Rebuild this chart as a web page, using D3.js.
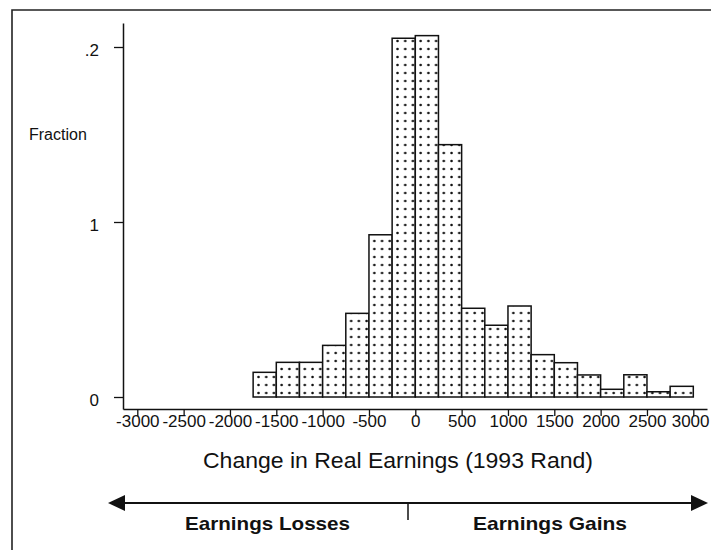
<!DOCTYPE html>
<html>
<head>
<meta charset="utf-8">
<script src="https://cdn.jsdelivr.net/npm/d3@7"></script>
<style>
  html, body { margin: 0; padding: 0; background: #fff; }
  svg { display: block; font-family: "Liberation Sans", Arial, sans-serif; }
</style>
</head>
<body>
<svg id="chart" width="711" height="550"></svg>
<script>
// ---- data ----
const binStarts = [-1750, -1500, -1250, -1000, -750, -500, -250, 0, 250, 500, 750, 1000, 1250, 1500, 1750, 2000, 2250, 2500, 2750];
const binWidth = 250;
const fractions = [0.0141, 0.0198, 0.0198, 0.0295, 0.0478, 0.0927, 0.2050, 0.2065, 0.1442, 0.0507, 0.0410, 0.0520, 0.0242, 0.0196, 0.0126, 0.0044, 0.0127, 0.0030, 0.0061];
const xTickValues = [-3000, -2500, -2000, -1500, -1000, -500, 0, 500, 1000, 1500, 2000, 2500, 3000];
const xTickLabels = ["-3000", "-2500", "-2000", "-1500", "-1000", "-500", "0", "500", "1000", "1500", "2000", "2500", "3000"];
const yTickValues = [0, 0.1, 0.2];
const yTickLabels = ["0", "1", ".2"];
const yTitle = "Fraction";
const xTitle = "Change in Real Earnings (1993 Rand)";
const lossLabel = "Earnings Losses";
const gainLabel = "Earnings Gains";

const svg = d3.select("#chart");
const ink = "#111";

// ---- scales ----
const x = d3.scaleLinear().domain([-3000, 3000]).range([137.3, 693.3]);
const y = d3.scaleLinear().domain([0, 0.2]).range([397, 47]);

// outer frame (left + top visible)
svg.append("path")
  .attr("d", "M12,552 L12,10 L713,10")
  .attr("fill", "none").attr("stroke", "#222").attr("stroke-width", 1.6);

// dot pattern
const defs = svg.append("defs");
const pat = defs.append("pattern")
  .attr("id", "dots")
  .attr("patternUnits", "userSpaceOnUse")
  .attr("x", x(-1750)).attr("y", 397)
  .attr("width", (x(binWidth) - x(0)) / 3)
  .attr("height", 8);
pat.append("rect").attr("width", 20).attr("height", 20).attr("fill", "#fff");
pat.append("circle")
  .attr("cx", (x(binWidth) - x(0)) / 6 + 1.5).attr("cy", 4).attr("r", 1.3).attr("fill", "#111");

// bars
svg.append("g").selectAll("rect")
  .data(binStarts.map((s, i) => ({ s, v: fractions[i] })))
  .join("rect")
  .attr("x", d => x(d.s))
  .attr("y", d => y(d.v))
  .attr("width", d => x(d.s + binWidth) - x(d.s))
  .attr("height", d => y(0) - y(d.v))
  .attr("fill", "url(#dots)")
  .attr("stroke", ink)
  .attr("stroke-width", 1.5);

// y axis
const yAxisScale = y.copy().domain([y.invert(409), y.invert(23)]).range([409, 23]);
const yAxis = svg.append("g")
  .attr("transform", "translate(123,0)")
  .call(d3.axisLeft(yAxisScale)
    .tickValues(yTickValues)
    .tickFormat((d, i) => yTickLabels[i])
    .tickSize(9).tickSizeOuter(0).tickPadding(15));
yAxis.select(".domain").attr("stroke", ink).attr("stroke-width", 1.5);
yAxis.selectAll(".tick line").attr("stroke", ink).attr("stroke-width", 1.3);
yAxis.selectAll(".tick text")
  .attr("font-size", 17).attr("fill", ink).attr("dy", "0.5em")
  .attr("font-family", "Liberation Sans, Arial, sans-serif");

// x axis
const xAxisScale = x.copy().domain([x.invert(123), x.invert(707)]).range([123, 707]);
const xAxis = svg.append("g")
  .attr("transform", "translate(0,409)")
  .call(d3.axisBottom(xAxisScale)
    .tickValues(xTickValues)
    .tickFormat((d, i) => xTickLabels[i])
    .tickSize(7).tickSizeOuter(0));
xAxis.select(".domain").attr("stroke", ink).attr("stroke-width", 1.6);
xAxis.selectAll(".tick line").attr("stroke", ink).attr("stroke-width", 1.3);
xAxis.selectAll(".tick text")
  .attr("font-size", 17).attr("fill", ink)
  .attr("y", 18).attr("dy", 0)
  .attr("font-family", "Liberation Sans, Arial, sans-serif");
// keep the last label inside the window (it abuts its neighbour, as in the reference)
xAxis.selectAll(".tick text").filter((d, i, n) => i === n.length - 1)
  .attr("text-anchor", "end").attr("x", 709 - x(3000));

// y title
svg.append("text")
  .attr("x", 29).attr("y", 140)
  .attr("font-size", 16).attr("fill", ink)
  .text(yTitle);

// x title
svg.append("text")
  .attr("x", 203).attr("y", 468)
  .attr("font-size", 22).attr("fill", ink)
  .attr("textLength", 390).attr("lengthAdjust", "spacingAndGlyphs")
  .text(xTitle);

// arrow line
const ay = 503;
svg.append("line")
  .attr("x1", 120).attr("x2", 696).attr("y1", ay).attr("y2", ay)
  .attr("stroke", ink).attr("stroke-width", 2);
svg.append("path")
  .attr("d", `M108,${ay} L125,${ay - 8} L125,${ay + 8} Z`).attr("fill", ink);
svg.append("path")
  .attr("d", `M708,${ay} L691,${ay - 8} L691,${ay + 8} Z`).attr("fill", ink);
svg.append("line")
  .attr("x1", 408).attr("x2", 408).attr("y1", ay).attr("y2", 520)
  .attr("stroke", ink).attr("stroke-width", 1.5);

// loss / gain labels
svg.append("text")
  .attr("x", 185).attr("y", 530)
  .attr("font-size", 19).attr("font-weight", "bold").attr("fill", ink)
  .attr("textLength", 165).attr("lengthAdjust", "spacingAndGlyphs")
  .text(lossLabel);
svg.append("text")
  .attr("x", 473).attr("y", 530)
  .attr("font-size", 19).attr("font-weight", "bold").attr("fill", ink)
  .attr("textLength", 154).attr("lengthAdjust", "spacingAndGlyphs")
  .text(gainLabel);
</script>
</body>
</html>
